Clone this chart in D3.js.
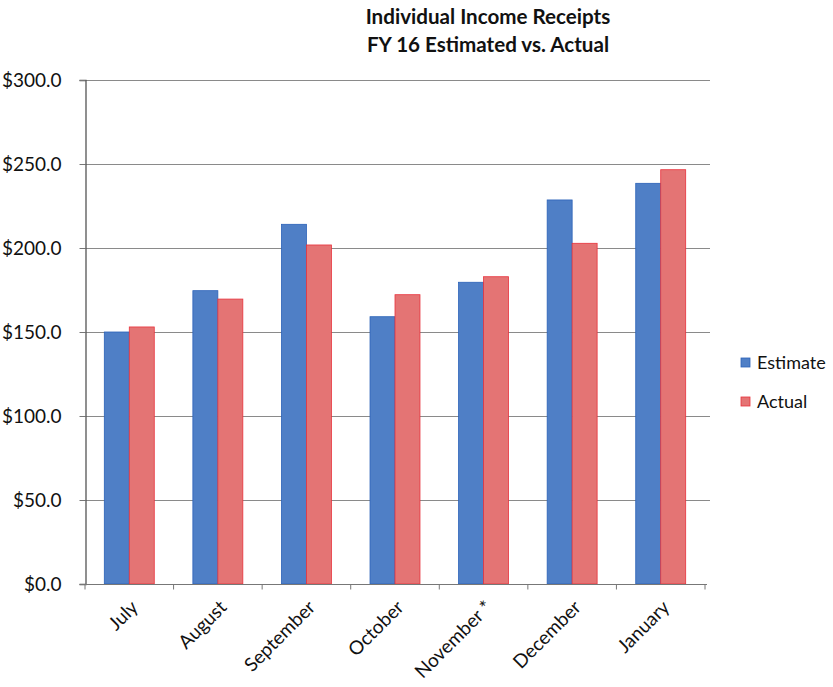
<!DOCTYPE html>
<html>
<head>
<meta charset="utf-8">
<script src="https://cdn.jsdelivr.net/npm/d3@7"></script>
<style>
  html, body { margin: 0; padding: 0; background: #fff; }
  svg { display: block; }
  text { font-family: Lato, "Open Sans", sans-serif; fill: #111; }
</style>
</head>
<body>
<svg id="chart" width="833" height="687"></svg>
<script>
// Monthly individual income receipts, FY 16 (millions of dollars)
const months = ["July", "August", "September", "October", "November *", "December", "January"];
const seriesNames = ["Estimate", "Actual"];
const estimate = [150.0, 174.6, 214.1, 159.1, 179.6, 228.6, 238.5];
const actual   = [153.0, 169.6, 201.8, 172.2, 182.9, 202.8, 246.6];
const yTicks = [0, 50, 100, 150, 200, 250, 300];
const colors = { Estimate: "#4f7fc6", Actual: "#e47474" };
const edges  = { Estimate: "#2b62b8", Actual: "#e8323c" };

const rows = months.map((m, i) => ({ month: m, Estimate: estimate[i], Actual: actual[i] }));

const svg = d3.select("#chart");
const plot = { left: 85, right: 705, top: 80, bottom: 584 };

const x0 = d3.scaleBand().domain(months).range([plot.left, plot.right]).padding(0);
const bw = x0.bandwidth();
const inset = bw * 0.218;
const x1 = d3.scaleBand().domain(seriesNames).range([inset, bw - inset]).padding(0);
const y = d3.scaleLinear().domain([0, 300]).range([plot.bottom, plot.top]);

// Title
const title = svg.append("text")
  .attr("x", 488).attr("text-anchor", "middle")
  .style("font-weight", "bold").style("font-size", "20.6px");
title.append("tspan").attr("x", 488).attr("y", 24).text("Individual Income Receipts");
title.append("tspan").attr("x", 488).attr("y", 52).text("FY 16 Estimated vs. Actual");

// Horizontal gridlines
svg.append("g")
  .selectAll("line")
  .data(yTicks.filter(d => d > 0))
  .join("line")
  .attr("x1", plot.left).attr("x2", plot.right + 5)
  .attr("y1", d => Math.round(y(d)) + 0.5).attr("y2", d => Math.round(y(d)) + 0.5)
  .attr("stroke", "#8a8a8a").attr("stroke-width", 1);

// Bars
const groups = svg.append("g")
  .selectAll("g")
  .data(rows)
  .join("g")
  .attr("transform", d => `translate(${x0(d.month)},0)`);

groups.selectAll("rect")
  .data(d => seriesNames.map(k => ({ key: k, value: d[k] })))
  .join("rect")
  .attr("x", d => x1(d.key))
  .attr("width", x1.bandwidth())
  .attr("y", d => y(d.value))
  .attr("height", d => y(0) - y(d.value))
  .attr("fill", d => colors[d.key])
  .attr("stroke", d => edges[d.key])
  .attr("stroke-width", 0.8);

// Y axis
const yAxis = d3.axisLeft(y)
  .tickValues(yTicks)
  .tickSize(6)
  .tickPadding(18)
  .tickFormat(d => "$" + d3.format(".1f")(d));
const gy = svg.append("g").attr("transform", `translate(${plot.left + 0.5},0)`).call(yAxis);
gy.select(".domain").attr("stroke", "#555").attr("stroke-width", 1.3);
gy.selectAll(".tick line").attr("stroke", "#777");
gy.selectAll(".tick text").style("font-size", "19px").attr("fill", "#111").attr("dy", "0.35em");

// X axis with ticks at category boundaries
const gx = svg.append("g").attr("transform", `translate(0,${plot.bottom + 0.5})`);
gx.append("line")
  .attr("x1", plot.left).attr("x2", plot.right + 2)
  .attr("stroke", "#777").attr("stroke-width", 1.2);
gx.selectAll(".bnd")
  .data(months.map(m => x0(m)).concat([plot.right]))
  .join("line")
  .attr("class", "bnd")
  .attr("x1", d => d).attr("x2", d => d)
  .attr("y1", 0).attr("y2", 5)
  .attr("stroke", "#777");
gx.selectAll(".lbl")
  .data(months)
  .join("text")
  .attr("class", "lbl")
  .attr("text-anchor", "end")
  .attr("transform", d => `translate(${x0(d) + bw / 2 + 10},${24}) rotate(-45)`)
  .style("font-size", "19px")
  .text(d => d);

// Legend
const legend = svg.append("g").attr("transform", "translate(741,354)");
seriesNames.forEach((k, i) => {
  const g = legend.append("g").attr("transform", `translate(0,${i * 39})`);
  g.append("rect").attr("x", 0).attr("y", 4).attr("width", 9).attr("height", 9)
    .attr("fill", colors[k]).attr("stroke", edges[k]).attr("stroke-width", 0.8);
  g.append("text").attr("x", 16).attr("y", 15).style("font-size", "18px").text(k);
});
</script>
</body>
</html>
